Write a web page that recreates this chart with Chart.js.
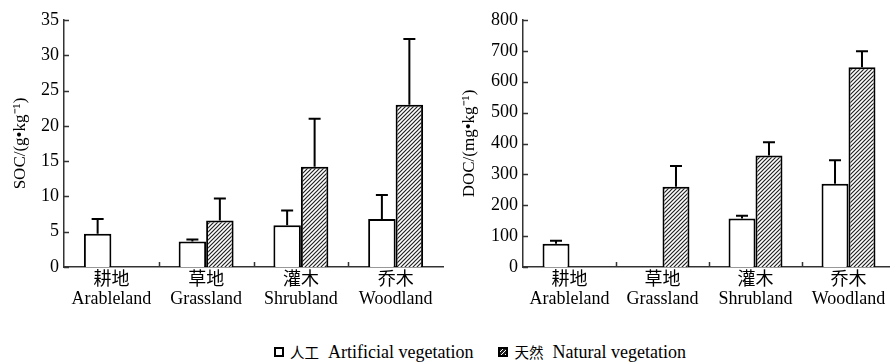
<!DOCTYPE html>
<html>
<head>
<meta charset="utf-8">
<script src="https://cdn.jsdelivr.net/npm/chart.js@4.4.1/dist/chart.umd.min.js"></script>
<style>
  html, body { margin:0; padding:0; background:#fff; width:890px; height:362px; overflow:hidden; position:relative; }
  canvas { position:absolute; top:0; }
  #legend { position:absolute; left:274px; top:342px; height:20px; white-space:nowrap;
    font-family:'Liberation Serif','Noto Sans CJK SC',serif; font-size:18px; color:#000; line-height:20px; }
  .sw { display:inline-block; width:6px; height:6px; border:2px solid #000; vertical-align:middle; margin-right:6px; position:relative; top:-2px; }
  .cjk { font-family:'Noto Sans CJK SC',sans-serif; font-size:14.5px; margin-right:9px; }
</style>
</head>
<body>
<canvas id="c1" width="445" height="320" style="left:0"></canvas>
<canvas id="c2" width="452" height="320" style="left:445px"></canvas>
<div id="legend">
  <span class="sw" style="background:#fff"></span><span class="cjk">人工</span>Artificial vegetation<span style="display:inline-block;width:25px"></span><span class="sw" style="background:repeating-linear-gradient(135deg,#222 0 1.6px,#fff 1.6px 2.8px)"></span><span class="cjk">天然</span>Natural vegetation
</div>
<script>
// ---- data ----
const categories = [['耕地','Arableland'], ['草地','Grassland'], ['灌木','Shrubland'], ['乔木','Woodland']];
const seriesNames = ['人工 Artificial vegetation', '天然 Natural vegetation'];

const socArtificial = [4.7, 3.6, 5.9, 6.8];
const socArtificialSD = [2.1, 0.3, 2.1, 3.4];
const socNatural = [null, 6.6, 14.2, 23.0];
const socNaturalSD = [null, 3.1, 6.8, 9.3];

const docArtificial = [75, null, 157, 270];
const docArtificialSD = [10, null, 9, 76];
const docNatural = [null, 260, 361, 647];
const docNaturalSD = [null, 67, 43, 52];

const socTicks = { max: 35, step: 5 };
const docTicks = { max: 800, step: 100 };

// ---- hatch pattern ----
function makeHatch() {
  const p = document.createElement('canvas');
  p.width = 4; p.height = 4;
  const g = p.getContext('2d');
  g.fillStyle = '#fff'; g.fillRect(0,0,4,4);
  g.strokeStyle = '#222'; g.lineWidth = 1.2;
  g.beginPath();
  g.moveTo(0,4); g.lineTo(4,0);
  g.moveTo(-1,1); g.lineTo(1,-1);
  g.moveTo(3,5); g.lineTo(5,3);
  g.stroke();
  return g.createPattern(p, 'repeat');
}

const FONT = "'Liberation Serif','Noto Sans CJK SC',serif";

const errorBars = {
  id: 'errorBars',
  afterDatasetsDraw(chart) {
    const ctx = chart.ctx;
    const ys = chart.scales.y;
    ctx.save();
    ctx.strokeStyle = '#000';
    ctx.lineWidth = 2;
    chart.data.datasets.forEach((ds, di) => {
      const meta = chart.getDatasetMeta(di);
      ds.data.forEach((v, i) => {
        if (v == null || ds.sd[i] == null) return;
        const bar = meta.data[i];
        const x = bar.x;
        const yTop = ys.getPixelForValue(v + ds.sd[i]);
        ctx.beginPath();
        ctx.moveTo(x, bar.y);
        ctx.lineTo(x, yTop);
        ctx.moveTo(x - 6, yTop);
        ctx.lineTo(x + 6, yTop);
        ctx.stroke();
      });
    });
    ctx.restore();
  }
};

const innerTicks = {
  id: 'innerTicks',
  afterDraw(chart) {
    const ctx = chart.ctx;
    const ys = chart.scales.y, xs = chart.scales.x;
    const a = chart.chartArea;
    ctx.save();
    ctx.strokeStyle = '#333';
    ctx.lineWidth = 1.5;
    ctx.beginPath();
    ys.ticks.forEach((t, i) => {
      const y = Math.round(ys.getPixelForTick(i)) + 0.5;
      ctx.moveTo(a.left, y); ctx.lineTo(a.left + 5, y);
    });
    const n = xs.ticks.length;
    for (let i = 0; i < n - 1; i++) {
      const x = Math.round((xs.getPixelForTick(i) + xs.getPixelForTick(i + 1)) / 2) + 0.5;
      ctx.moveTo(x, a.bottom); ctx.lineTo(x, a.bottom - 5);
    }
    ctx.stroke();
    ctx.restore();
  }
};

function makeChart(id, art, artSD, nat, natSD, tk, title, yWidth, titlePad) {
  return new Chart(document.getElementById(id), {
    type: 'bar',
    data: {
      labels: categories,
      datasets: [
        { label: seriesNames[0], data: art, sd: artSD, backgroundColor: '#fff', borderColor: '#000', borderWidth: 2, borderSkipped: 'bottom' },
        { label: seriesNames[1], data: nat, sd: natSD, backgroundColor: makeHatch(), borderColor: '#000', borderWidth: 2, borderSkipped: 'bottom' }
      ]
    },
    options: {
      responsive: false,
      animation: false,
      events: [],
      layout: { padding: { top: 20, right: 2, left: 0, bottom: 0 } },
      datasets: { bar: { categoryPercentage: 0.58, barPercentage: 1.0 } },
      plugins: { legend: { display: false }, tooltip: { enabled: false } },
      scales: {
        x: {
          grid: { display: false, drawTicks: false },
          border: { display: true, color: '#333', width: 1.5 },
          ticks: { color: '#000', font: { family: FONT, size: 18, lineHeight: 1.05 }, padding: 4, maxRotation: 0, autoSkip: false },
          afterFit(s) { s.height = 53; }
        },
        y: {
          min: 0, max: tk.max,
          grid: { display: false, drawTicks: false },
          border: { display: true, color: '#333', width: 1.5 },
          ticks: { stepSize: tk.step, color: '#000', font: { family: FONT, size: 18 }, padding: 5 },
          title: { display: true, text: title, color: '#000', font: { family: FONT, size: 17 }, padding: { top: titlePad, bottom: 0 } },
          afterFit(s) { s.width = yWidth; }
        }
      }
    },
    plugins: [errorBars, innerTicks]
  });
}

makeChart('c1', socArtificial, socArtificialSD, socNatural, socNaturalSD, socTicks, 'SOC/(g•kg⁻¹)', 64, 10);
makeChart('c2', docArtificial, docArtificialSD, docNatural, docNaturalSD, docTicks, 'DOC/(mg•kg⁻¹)', 78, 14);
</script>
</body>
</html>
